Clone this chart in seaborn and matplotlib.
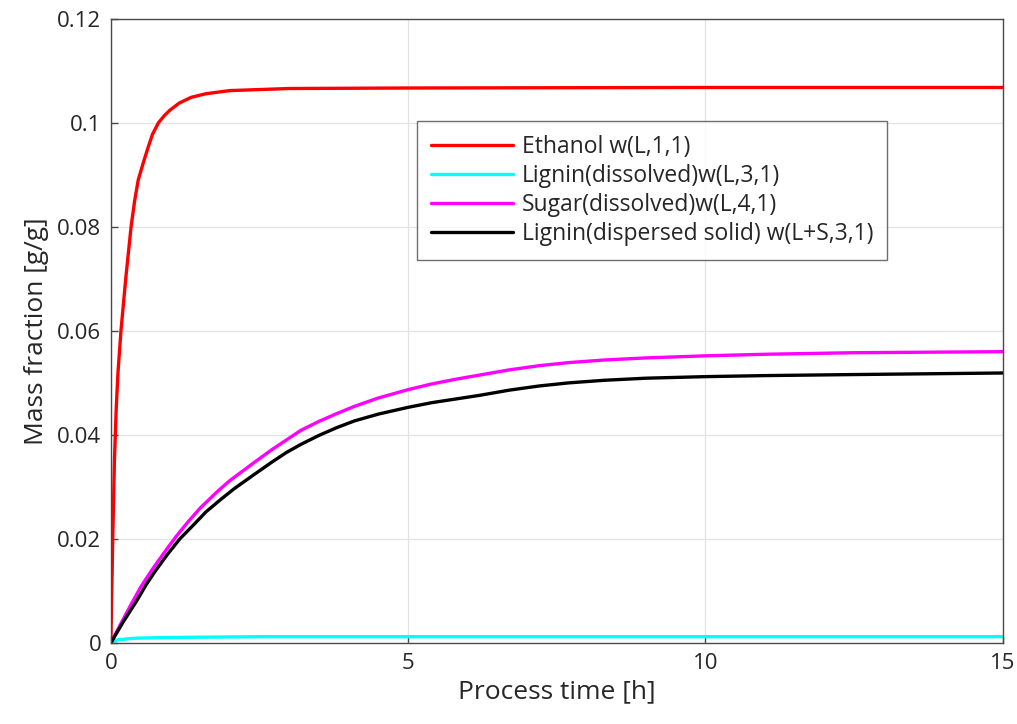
import numpy as np
import pandas as pd
import matplotlib
matplotlib.use("Agg")
import matplotlib.pyplot as plt
import seaborn as sns

# ---- data ----
t_eth = [0, 0.03, 0.06, 0.09, 0.12, 0.17, 0.25, 0.34, 0.40, 0.46, 0.55, 0.63, 0.70, 0.80, 0.90, 1.0,
         1.15, 1.35, 1.6, 2.0, 2.5, 3.0, 5.0, 10.0, 15.0]
w_eth = [0, 0.019, 0.035, 0.045, 0.052, 0.060, 0.070, 0.080, 0.085, 0.089, 0.0925, 0.0954, 0.0978, 0.100, 0.1014, 0.1025,
         0.1038, 0.1049, 0.1056, 0.1062, 0.1064, 0.1066, 0.1067, 0.1068, 0.1068]

t_lig = [0, 0.12, 0.4, 0.75, 1.5, 2.6, 5.0, 10.0, 15.0]
w_lig = [0, 0.0006, 0.0009, 0.0010, 0.0011, 0.0012, 0.0012, 0.0012, 0.0012]

t_sug = [0, 0.15, 0.35, 0.5, 0.7, 0.9, 1.1, 1.3, 1.5, 1.8, 2.0, 2.4, 2.7, 2.95, 3.2, 3.5, 3.8, 4.1, 4.5,
         5.0, 5.4, 5.8, 6.2, 6.7, 7.2, 7.7, 8.3, 9.0, 10.0, 11.0, 12.5, 15.0]
w_sug = [0, 0.0033, 0.0076, 0.0107, 0.0142, 0.0174, 0.0205, 0.0233, 0.0259, 0.0292, 0.0312, 0.0346, 0.0371, 0.0390, 0.0409,
         0.0426, 0.0441, 0.0455, 0.0471, 0.0487, 0.0498, 0.0507, 0.0515, 0.0525, 0.0533, 0.0539, 0.0544, 0.0548,
         0.0552, 0.0555, 0.0558, 0.0560]

t_lds = [0, 0.2, 0.43, 0.6, 0.74, 0.95, 1.16, 1.4, 1.6, 1.85, 2.08, 2.4, 2.7, 2.95, 3.2, 3.5, 3.8, 4.1, 4.5,
         5.0, 5.4, 5.8, 6.2, 6.7, 7.2, 7.7, 8.3, 9.0, 10.0, 11.0, 12.5, 15.0]
w_lds = [0, 0.0039, 0.0080, 0.0113, 0.0137, 0.0170, 0.0200, 0.0228, 0.0252, 0.0276, 0.0297, 0.0323, 0.0347, 0.0366, 0.0382,
         0.0399, 0.0414, 0.0427, 0.0440, 0.0453, 0.0462, 0.0469, 0.0476, 0.0486, 0.0494, 0.0500, 0.0505, 0.0509,
         0.0512, 0.0514, 0.0516, 0.0519]

labels = ["Ethanol w(L,1,1)", "Lignin(dissolved)w(L,3,1)",
          "Sugar(dissolved)w(L,4,1)", "Lignin(dispersed solid) w(L+S,3,1)"]
colors = ["#ff0000", "#00ffff", "#ff00ff", "#000000"]

x_ticks = [0, 5, 10, 15]
x_ticklabels = ["0", "5", "10", "15"]
y_ticks = [0, 0.02, 0.04, 0.06, 0.08, 0.10, 0.12]
y_ticklabels = ["0", "0.02", "0.04", "0.06", "0.08", "0.1", "0.12"]

frames = []
for lab, tt, ww in zip(labels, [t_eth, t_lig, t_sug, t_lds], [w_eth, w_lig, w_sug, w_lds]):
    frames.append(pd.DataFrame({"t": tt, "w": ww, "series": lab}))
df = pd.concat(frames, ignore_index=True)

sns.set_theme(style="white")
plt.rcParams["font.family"] = ["Open Sans", "DejaVu Sans"]
txt = "#262626"

fig = plt.figure(figsize=(10.17, 7.24), dpi=100)
ax = fig.add_axes([0.109, 0.112, 0.877, 0.862])

sns.lineplot(data=df, x="t", y="w", hue="series", hue_order=labels,
             palette=dict(zip(labels, colors)), estimator=None, sort=True,
             linewidth=2.4, ax=ax)

ax.set_xlim(0, 15)
ax.set_ylim(0, 0.12)
ax.set_xticks(x_ticks)
ax.set_xticklabels(x_ticklabels)
ax.set_yticks(y_ticks)
ax.set_yticklabels(y_ticklabels)
ax.grid(True, color="#e3e3e3", linewidth=0.9)
ax.set_axisbelow(True)
for s in ax.spines.values():
    s.set_visible(True)
    s.set_color("#4a4a4a")
    s.set_linewidth(1.0)
ax.tick_params(direction="in", length=5, width=1, color="#4a4a4a",
               labelsize=16, labelcolor=txt, top=False, right=False,
               bottom=True, left=True, pad=7)
ax.set_xlabel("Process time [h]", fontsize=19, color=txt, labelpad=4)
ax.set_ylabel("Mass fraction [g/g]", fontsize=19, color=txt, labelpad=6)

leg = ax.legend(loc="upper left", bbox_to_anchor=(0.343, 0.837), borderaxespad=0,
                fontsize=16.5, frameon=True, fancybox=False, handlelength=3.6,
                handletextpad=0.35, labelspacing=0.22, borderpad=0.62)
leg.get_frame().set_edgecolor("#4a4a4a")
leg.get_frame().set_linewidth(1.0)
for tx in leg.get_texts():
    tx.set_color(txt)
for ln in leg.get_lines():
    ln.set_linewidth(2.4)

fig.savefig("out.png", dpi=100, facecolor="white")
